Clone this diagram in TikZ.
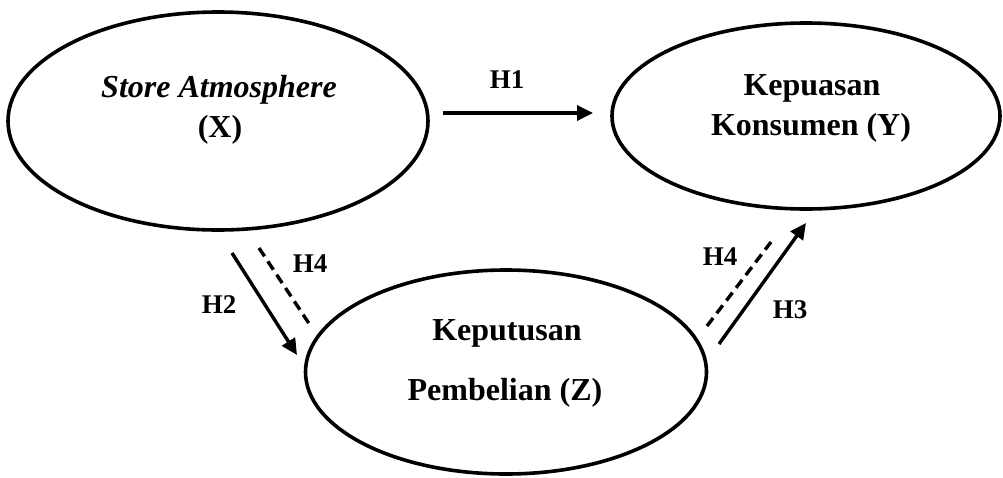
\documentclass[tikz,border=0pt]{standalone}
\usepackage{fontspec}
\setmainfont{Liberation Serif}
\usetikzlibrary{shapes.geometric,arrows.meta}
\begin{document}
\begin{tikzpicture}[x=1pt,y=-1pt,
  var/.style={draw,ellipse,line width=3.6pt,inner sep=0pt},
  vtext/.style={anchor=base,inner sep=0pt,font=\fontsize{32}{36}\selectfont\bfseries},
  hlab/.style={anchor=base,inner sep=0pt,font=\fontsize{27}{30}\selectfont\bfseries},
  arr/.style={line width=3.4pt,-{Triangle[length=16pt,width=15pt]}},
  darr/.style={line width=3.4pt,dash pattern=on 10pt off 6pt}]
\useasboundingbox (0,0) rectangle (1003,477);
% ellipses
\node[var,minimum width=420pt,minimum height=218pt] (X) at (218,121) {};
\node[var,minimum width=388pt,minimum height=186pt] (Y) at (806,116) {};
\node[var,minimum width=401pt,minimum height=204pt] (Z) at (506,372) {};
% texts
\node[vtext,font=\fontsize{32}{36}\selectfont\bfseries\itshape] (xt1) at (219,97) {Store Atmosphere};
\node[vtext] (xt2) at (220,137) {(X)};
\node[vtext] (yt1) at (812,95) {Kepuasan};
\node[vtext] (yt2) at (811,135) {Konsumen (Y)};
\node[vtext] (zt1) at (507,340) {Keputusan};
\node[vtext] (zt2) at (505,400) {Pembelian (Z)};
% connector endpoints
\coordinate (h1s) at (443,113);
\coordinate (h1e) at (593,113);
\coordinate (h2s) at (232,253);
\coordinate (h2e) at (297,355);
\coordinate (h4as) at (259,248);
\coordinate (h4ae) at (310,325);
\coordinate (h3s) at (719,344);
\coordinate (h3e) at (806,223);
\coordinate (h4bs) at (707,326);
\coordinate (h4be) at (771,242);
% connectors
\draw[arr] (h1s) -- (h1e);
\draw[arr] (h2s) -- (h2e);
\draw[darr] (h4as) -- (h4ae);
\draw[arr] (h3s) -- (h3e);
\draw[darr] (h4bs) -- (h4be);
% labels
\node[hlab] (l1) at (507,88) {H1};
\node[hlab] (l2) at (219,313) {H2};
\node[hlab] (l4a) at (310,272) {H4};
\node[hlab] (l4b) at (720,265) {H4};
\node[hlab] (l3) at (790,318) {H3};
\end{tikzpicture}
\end{document}
